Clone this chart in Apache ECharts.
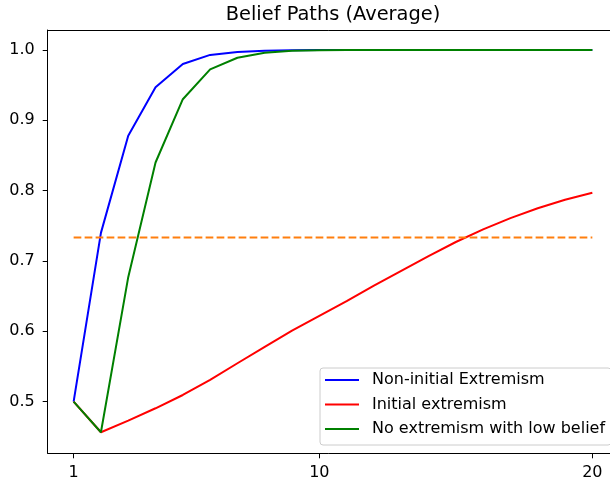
<!DOCTYPE html>
<html>
<head>
<meta charset="utf-8">
<script src="https://cdn.jsdelivr.net/npm/echarts@6/dist/echarts.min.js"></script>
<style>html,body{margin:0;padding:0;background:#fff;overflow:hidden;}#c{width:610px;height:483px;}</style>
</head>
<body>
<div id="c"></div>
<script>
const steps = [1,2,3,4,5,6,7,8,9,10,11,12,13,14,15,16,17,18,19,20];
const nonInitial = [0.5,0.74,0.878,0.947,0.980,0.993,0.997,0.999,0.9997,1.0,1.0,1.0,1.0,1.0,1.0,1.0,1.0,1.0,1.0,1.0];
const initialExt = [0.5,0.4565,0.473,0.4906,0.5095,0.531,0.5546,0.578,0.601,0.622,0.643,0.665,0.686,0.707,0.727,0.745,0.761,0.775,0.787,0.797];
const noExtLow = [0.5,0.4565,0.677,0.840,0.930,0.9725,0.989,0.996,0.999,0.9997,1.0,1.0,1.0,1.0,1.0,1.0,1.0,1.0,1.0,1.0];
const threshold = [0.7335,0.7335,0.7335,0.7335,0.7335,0.7335,0.7335,0.7335,0.7335,0.7335,0.7335,0.7335,0.7335,0.7335,0.7335,0.7335,0.7335,0.7335,0.7335,0.7335];
const xTicks = [1,10,20];
const yTicks = [0.5,0.6,0.7,0.8,0.9,1.0];
const names = ['Non-initial Extremism','Initial extremism','No extremism with low belief'];

const pairs = arr => steps.map((x,i)=>[x,arr[i]]);
const font = 'DejaVu Sans';
const X_MIN = 0.05, X_MAX = 20.647; // right edge of the visible plot (the axes box is cut by the image edge)
const chart = echarts.init(document.getElementById('c'), null, {renderer:'canvas'});
chart.setOption({
  animation:false,
  backgroundColor:'#fff',
  title:{text:'Belief Paths (Average)', left:328, top:0, textAlign:'center',
    textStyle:{fontFamily:font, fontSize:19.4, fontWeight:'normal', color:'#000'}},
  grid:{left:47.7, top:30, right:0, bottom:29.7, show:false},
  legend:{data:names, orient:'vertical', left:320, top:368, itemWidth:34, itemHeight:2, icon:'rect', itemGap:6.5,
    padding:[3,6,7,5], backgroundColor:'rgba(255,255,255,0.8)', borderColor:'#cccccc', borderWidth:1, borderRadius:3,
    textStyle:{fontFamily:font, fontSize:16, color:'#000', lineHeight:18, padding:[0,0,0,8]}},
  xAxis:[{type:'value', min:X_MIN, max:X_MAX, position:'bottom',
    axisLine:{show:true, onZero:false, lineStyle:{color:'#000', width:1}},
    axisTick:{show:true, length:5, lineStyle:{color:'#000'}, customValues:xTicks},
    axisLabel:{customValues:xTicks, margin:12, fontFamily:font, fontSize:16, color:'#000'},
    splitLine:{show:false}},
    {type:'value', min:X_MIN, max:X_MAX, position:'top',
    axisLine:{show:true, onZero:false, lineStyle:{color:'#000', width:1}},
    axisTick:{show:false}, axisLabel:{show:false}, splitLine:{show:false}}],
  yAxis:{type:'value', min:0.4266, max:1.0284,
    axisLine:{show:true, onZero:false, lineStyle:{color:'#000', width:1}},
    axisTick:{show:true, length:5, lineStyle:{color:'#000'}, customValues:yTicks},
    axisLabel:{customValues:yTicks, margin:13, fontFamily:font, fontSize:16, color:'#000', formatter:v=>v.toFixed(1)},
    splitLine:{show:false}},
  series:[
    {name:names[0], type:'line', data:pairs(nonInitial), showSymbol:false, symbol:'none', lineStyle:{color:'#0000ff', width:2}, itemStyle:{color:'#0000ff'}},
    {name:names[1], type:'line', data:pairs(initialExt), showSymbol:false, symbol:'none', lineStyle:{color:'#ff0000', width:2}, itemStyle:{color:'#ff0000'}},
    {name:names[2], type:'line', data:pairs(noExtLow), showSymbol:false, symbol:'none', lineStyle:{color:'#008000', width:2}, itemStyle:{color:'#008000'}},
    {name:'threshold', type:'line', data:pairs(threshold), showSymbol:false, symbol:'none', lineStyle:{color:'#ff7f0e', width:2, type:[7.7,3.3]}, itemStyle:{color:'#ff7f0e'}}
  ]
});
</script>
</body>
</html>
